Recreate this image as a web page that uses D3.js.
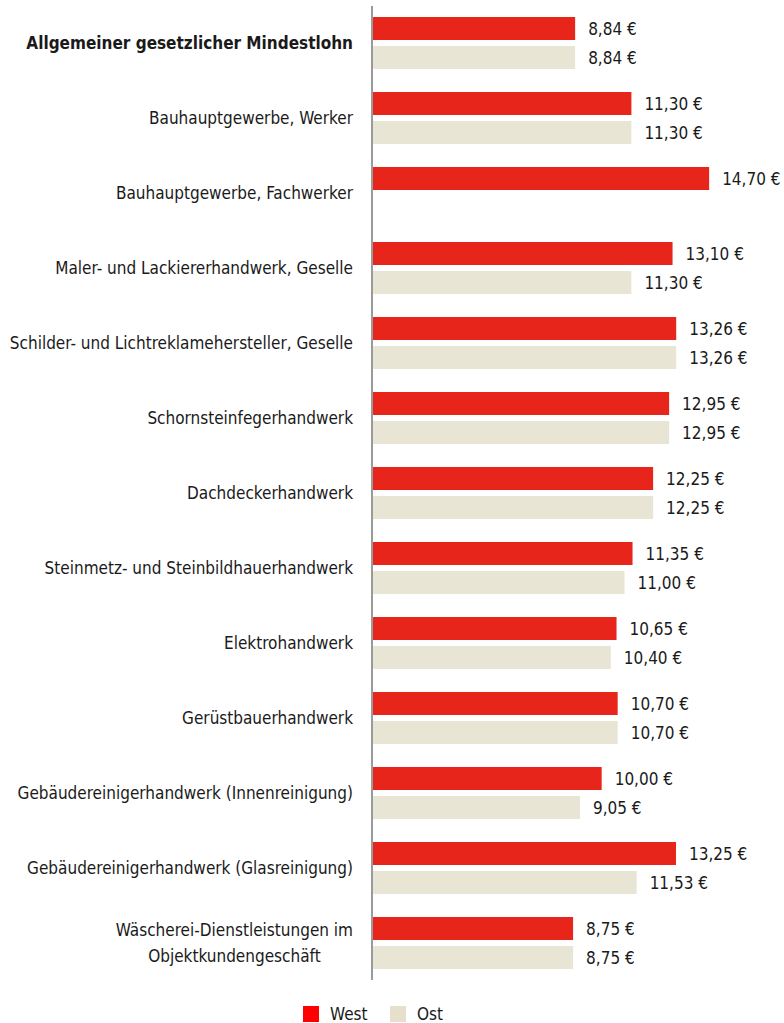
<!DOCTYPE html>
<html>
<head>
<meta charset="utf-8">
<script src="https://cdn.jsdelivr.net/npm/d3@7"></script>
<style>
  body { margin: 0; background: #fff; }
  svg text { font-family: "Liberation Sans Narrow", "DejaVu Sans Condensed", "Roboto", sans-serif; fill: #1a1a1a; }
</style>
</head>
<body>
<div class="chartDiv"></div>
<script>
"use strict"

// categories (top to bottom); "\n" splits a label over two lines
var categories = [
    "Allgemeiner gesetzlicher Mindestlohn",
    "Bauhauptgewerbe, Werker",
    "Bauhauptgewerbe, Fachwerker",
    "Maler- und Lackiererhandwerk, Geselle",
    "Schilder- und Lichtreklamehersteller, Geselle",
    "Schornsteinfegerhandwerk",
    "Dachdeckerhandwerk",
    "Steinmetz- und Steinbildhauerhandwerk",
    "Elektrohandwerk",
    "Gerüstbauerhandwerk",
    "Gebäudereinigerhandwerk (Innenreinigung)",
    "Gebäudereinigerhandwerk (Glasreinigung)",
    "Wäscherei-Dienstleistungen im\nObjektkundengeschäft"
];

var westValues = [8.84, 11.30, 14.70, 13.10, 13.26, 12.95, 12.25, 11.35, 10.65, 10.70, 10.00, 13.25, 8.75];
var ostValues  = [8.84, 11.30, null,  11.30, 13.26, 12.95, 12.25, 11.00, 10.40, 10.70, 9.05, 11.53, 8.75];

var seriesNames = ["West", "Ost"];

// styling
var barColors = {West: "#e8251b", Ost: "#e8e5d5"};
var legendColors = {West: "#ff0000", Ost: "#e5dfcc"};

var width = 784;
var height = 1023;
var fontSize = 17;

var svg = d3.select(".chartDiv").append("svg")
            .attr("width", width)
            .attr("height", height);

var x = d3.scaleLinear()
            .domain([0, 15])
            .range([373, 716]);

// each category gets a band; inside it, West and Ost sit on a sub band
var y = d3.scaleBand()
            .domain(d3.range(categories.length))
            .range([11, 986])
            .paddingInner(0)
            .paddingOuter(0);

var ySub = d3.scaleBand()
            .domain(seriesNames)
            .range([6, 58])
            .paddingInner(0.207);

var rows = svg.selectAll(".row")
            .data(categories.map(function(c, i) { return {name: c, West: westValues[i], Ost: ostValues[i], i: i} }))
            .enter()
            .append("g")
            .attr("class", "row")
            .attr("transform", function(d) { return "translate(0," + y(d.i) + ")" });

rows.each(function(d)
{
    var g = d3.select(this);
    var bars = seriesNames.filter(function(s) { return d[s] != null })
                    .map(function(s) { return {series: s, value: d[s]} });

    g.selectAll("rect")
        .data(bars)
        .enter()
        .append("rect")
        .attr("x", x(0))
        .attr("y", function(b) { return ySub(b.series) })
        .attr("width", function(b) { return x(b.value) - x(0) })
        .attr("height", ySub.bandwidth())
        .attr("fill", function(b) { return barColors[b.series] });

    g.selectAll(".valueLabel")
        .data(bars)
        .enter()
        .append("text")
        .attr("class", "valueLabel")
        .attr("x", function(b) { return x(b.value) + 13 })
        .attr("y", function(b) { return ySub(b.series) + ySub.bandwidth() / 2 })
        .attr("dy", "0.36em")
        .attr("font-size", fontSize)
        .text(function(b) { return d3.format(".2f")(b.value).replace(".", ",") + " €" });

    // category label, centered on the group
    var lines = d.name.split("\n");
    var label = g.append("text")
                    .attr("class", "catLabel")
                    .attr("font-size", fontSize)
                    .attr("font-weight", d.i === 0 ? "bold" : "normal");

    var lineHeight = 26;
    var mid = ySub.range()[0] + (ySub.range()[1] - ySub.range()[0]) / 2;
    var firstY = mid - (lines.length - 1) * lineHeight / 2;

    var tspans = label.selectAll("tspan")
                    .data(lines)
                    .enter()
                    .append("tspan")
                    .attr("y", function(l, k) { return firstY + k * lineHeight })
                    .attr("dy", "0.36em")
                    .text(function(l) { return l });

    // multi-line labels are centred on each other, block right-aligned to the axis
    var widths = [];
    tspans.each(function() { widths.push(this.getComputedTextLength()) });
    var maxW = d3.max(widths);
    tspans.attr("x", 353 - maxW / 2).attr("text-anchor", "middle");
});

// vertical axis line
svg.append("line")
    .attr("x1", x(0) - 1)
    .attr("x2", x(0) - 1)
    .attr("y1", 6)
    .attr("y2", 980)
    .attr("stroke", "#9a9a9a")
    .attr("stroke-width", 2);

// legend
var legend = svg.append("g")
                .attr("class", "legend")
                .attr("transform", "translate(303,1006)");

var legendItems = legend.selectAll("g")
                .data(seriesNames)
                .enter()
                .append("g")
                .attr("transform", function(d, i) { return "translate(" + (i * 87) + ",0)" });

legendItems.append("rect")
    .attr("width", 16)
    .attr("height", 16)
    .attr("fill", function(d) { return legendColors[d] });

legendItems.append("text")
    .attr("x", 27)
    .attr("y", 8)
    .attr("dy", "0.36em")
    .attr("font-size", fontSize)
    .text(function(d) { return d });
</script>
</body>
</html>
